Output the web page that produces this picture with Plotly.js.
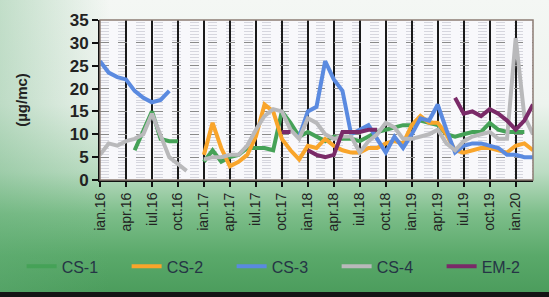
<!DOCTYPE html>
<html><head><meta charset="utf-8">
<script src="https://cdn.plot.ly/plotly-3.0.1.min.js"></script>
<style>
html,body{margin:0;padding:0;background:#fff;}
#wrap{position:relative;width:549px;height:297px;overflow:hidden;
background:
 linear-gradient(to right, rgba(100,175,120,0.35) 0%, rgba(255,255,255,0) 20%),
 linear-gradient(to bottom, #f4f7f4 0%, #edf3ee 35%, #bcdcc3 58%, #7dbe8a 72%, #5aa96a 86%, #4a9b5b 100%);}
#chart{position:absolute;left:0;top:0;width:549px;height:297px;}
#bar{position:absolute;left:0;bottom:0;width:549px;height:5px;background:#151515;}
</style></head>
<body>
<div id="wrap"><div id="chart"></div><div id="bar"></div></div>
<script>
// Month categories (Romanian abbreviations), ian.16 .. mar.20
var monthNames = ['ian','feb','mar','apr','mai','iun','iul','aug','sep','oct','nov','dec'];
var years = ['16','17','18','19','20'];
var categories = [];
years.forEach(function(y){ monthNames.forEach(function(m){ categories.push(m + '.' + y); }); });
categories = categories.slice(0, 51);
var tickLabels = ['ian.16','apr.16','iul.16','oct.16','ian.17','apr.17','iul.17','oct.17','ian.18','apr.18','iul.18','oct.18','ian.19','apr.19','iul.19','oct.19','ian.20'];

var seriesNames = ['CS-1','CS-2','CS-3','CS-4','EM-2'];
var cs1 = [null,null,null,null,6.5,10.5,15,9,8.5,8.5,null,null,
  4,6.5,4,5,5.5,7,7,7,6.5,15,12.5,9.5,10.5,9.5,8.5,9.5,9,9,8.5,9.5,10.5,11,11.5,12,12,13,12.5,12,10,9.5,10,10.5,10.5,12.5,11,10.5,10.5,10.5,null];
var cs2 = [null,null,null,null,null,null,null,null,null,null,null,null,
  5.5,12.5,7,3,4,5.5,9.5,16.5,15,9,6.5,4.5,7.5,7,9,7.5,6.5,6,6,7,7,8,8.5,8,12,14,12.5,12.5,10,6.5,6,6.5,7,7,6.5,6,7.5,8,6.5];
var cs3 = [26,23.5,22.5,22,19.5,18,17,17.5,19.5,null,null,null,
  null,null,null,null,null,null,null,null,null,null,null,9.5,15,16,26,22,19.5,10,11,12,9,6,9.5,7,10,13.5,13,16.5,11,6,7.5,8,8,7.5,7,5.5,5.5,5,5];
var cs4 = [5.5,8,7.5,8.5,9,10,14.5,10,5,3.5,2,null,
  4.5,5,5,5.5,5.5,7.5,11,14,15.5,15,11,9,13.5,12.5,10,9,9.5,9.5,6,8.5,10,12.5,11.5,9,9,9.5,10,11,8,6.5,8.5,9.5,10,10.5,9,9,31,14,10];
var em2 = [null,null,null,null,null,null,null,null,null,null,null,null,
  null,null,null,null,null,null,null,null,null,10.5,10.5,null,6.5,5.5,5,5.5,10.5,10.5,10.5,11,11,null,null,null,null,null,null,null,null,18,14.5,15,14,15.5,14.5,13,11,13,16.5];
var seriesValues = [cs1, cs2, cs3, cs4, em2];
var seriesColors = ['#45a257','#f9a52b','#5a8ae0','#b9b9bb','#7a2a68'];

var traces = seriesNames.map(function(n, k){
  return {type:'scatter', mode:'lines', name:n, x:categories, y:seriesValues[k],
    connectgaps:false, line:{color:seriesColors[k], width:4}};
});

var layout = {
  width:549, height:297,
  margin:{l:100, r:16, t:20, b:117},
  paper_bgcolor:'rgba(0,0,0,0)',
  plot_bgcolor:'#f8f8fb',
  font:{family:'Liberation Sans, Arial, sans-serif', color:'#222'},
  xaxis:{type:'category', range:[0,50], tickmode:'array', tickvals:tickLabels, ticktext:tickLabels,
    tickangle:-90, tickfont:{size:14, color:'#222'},
    showgrid:true, gridcolor:'#1a1a1a', gridwidth:2,
    showline:true, linecolor:'#111', linewidth:2,
    ticks:'outside', ticklen:5, tickwidth:2, tickcolor:'#111', zeroline:false},
  yaxis:{range:[0,35], tick0:0, dtick:5,
    showgrid:true, gridcolor:'#8a8a8a', griddash:'dash', gridwidth:1,
    minor:{dtick:0.625, showgrid:true, gridcolor:'#d6d6de', gridwidth:1},
    showline:true, linecolor:'#111', linewidth:2,
    ticks:'outside', ticklen:6, tickwidth:2, tickcolor:'#111',
    tickfont:{size:17, color:'#222', weight:'bold'}, zeroline:false,
    title:{text:'(µg/mc)', font:{size:15, color:'#222', weight:'bold'}, standoff:38}},
  shapes:[{type:'rect', xref:'paper', yref:'paper', x0:0, x1:1, y0:0, y1:1,
    line:{color:'#8c7c74', width:1.5}, fillcolor:'rgba(0,0,0,0)'}],
  showlegend:true,
  legend:{orientation:'h', x:-0.181, y:-0.54, xanchor:'left', yanchor:'middle',
    font:{size:16, color:'#253545'}, bgcolor:'rgba(0,0,0,0)', entrywidth:60, traceorder:'normal'}
};

Plotly.newPlot('chart', traces, layout, {displayModeBar:false, staticPlot:true});
</script>
</body></html>
